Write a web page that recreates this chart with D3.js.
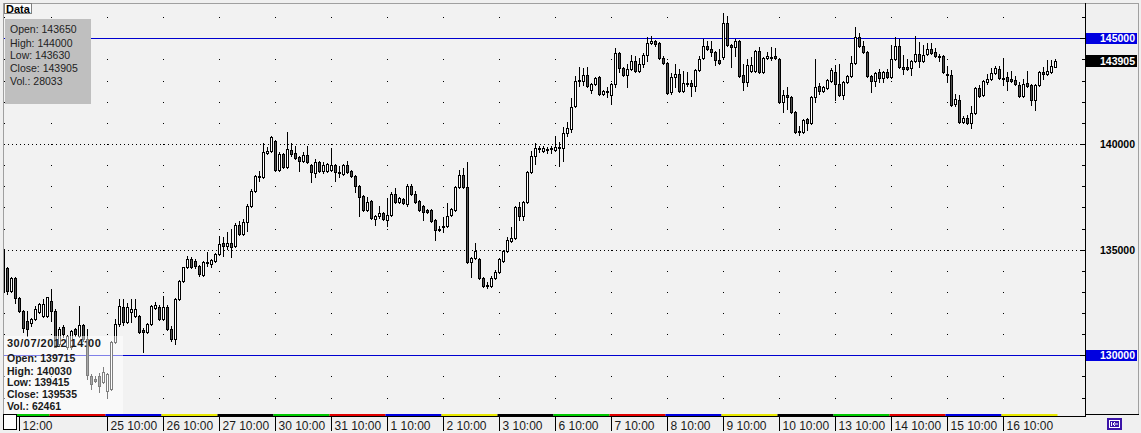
<!DOCTYPE html>
<html><head><meta charset="utf-8">
<script src="https://cdn.jsdelivr.net/npm/d3@7"></script>
<style>html,body{margin:0;padding:0;background:#f0f0f0;}svg{display:block;}</style>
</head><body>
<script>
// ---- data (30-min? hourly bars, index 0 = partially visible first bar) ----
const open = [135020,
134120,133030,133650,132700,132090,131610,131520,131710,132040,131850,
131850,132560,132090,130530,131330,130380,130380,131235,130900,131420,
130760,129010,128870,129010,128730,128300,128400,130620,131470,132280,
131570,132040,131850,131850,131190,131090,131470,132230,132280,131710,
132280,131240,130760,132650,133500,134170,134550,134450,134210,133790,
134400,134310,134450,134780,135300,135160,135300,135160,136150,135730,
136300,137050,137760,138470,138420,139560,139650,140130,138760,139510,
138900,139715,139560,139370,139180,139470,138990,138610,139130,138710,
138710,138760,138990,138660,138570,138990,138710,138470,138000,137530,
136860,137290,136440,136580,136720,136390,136630,137620,137240,137380,
137150,138000,137620,137290,137050,136860,136860,136390,135960,136110,
136110,136630,136860,137950,138520,137950,134400,134590,134550,133650,
133320,133270,133650,133930,134450,134920,135400,135540,137000,136580,
137240,138660,139420,139800,139650,139750,139770,139700,139840,139800,
140510,140700,141780,142970,142970,143250,142540,142820,143150,142350,
142440,142300,142820,144290,143580,143250,143530,143910,143440,143770,
144200,144760,144860,144760,144050,143820,142450,143150,143300,142490,
142870,142870,142730,143490,144050,144620,144480,144340,143960,144100,
145710,144670,144570,144860,143250,142920,143440,143440,144380,143390,
144050,144100,144150,144000,141970,142300,142210,141500,140600,140550,
141170,140980,142210,142730,142490,142630,142970,143390,142820,142300,
142920,143200,143820,145050,144620,144340,143200,142970,143390,143110,
143390,143160,144000,144620,143630,143630,143580,143910,144240,143910,
144240,144480,144340,144150,144150,143300,143250,141880,142070,141030,
141220,140980,141450,142630,142300,142920,143060,143340,143530,143110,
143150,143060,143010,142780,142260,142870,142780,142070,142780,143390,
143300,143390,143650];
const high = [135070,
134170,133690,133700,132750,132130,132090,131760,132320,132460,132650,
132750,133130,132180,131330,131420,130950,131190,131300,132320,131470,
131240,129100,129010,129150,129440,129150,130670,131700,132650,132650,
132460,132650,132650,131900,131280,131520,132370,132510,132370,132800,
132370,131380,132700,133550,134200,134690,134640,134550,134260,134450,
134880,134550,134830,135630,135590,135820,135960,136250,136340,136440,
137150,137860,138520,138710,140030,139840,140360,140180,139600,139560,
140550,140030,139890,139420,139600,139890,139040,139280,139180,139130,
139090,139800,139040,138950,139040,139180,138760,138520,138050,137580,
137480,137340,136630,137050,136770,137430,137720,137900,137480,137430,
138090,138090,137760,137340,137100,136910,136910,136440,136110,136530,
137190,136950,138000,138760,138850,139130,134640,135300,134600,133700,
133460,133740,134030,134590,134970,135610,136060,137050,137240,137290,
138710,139650,140030,139890,139890,139840,139890,140360,140080,140790,
141030,142160,143200,143630,143580,143630,142870,143150,143200,142540,
142680,142870,144520,144340,143630,143770,144200,144150,144050,144290,
145050,145090,144900,144810,144150,143860,143340,143770,143530,143440,
143390,143010,143530,144150,144950,144860,144860,144380,144480,146180,
146040,144720,144950,144910,143770,144000,144100,144430,144570,144100,
144340,144570,144530,144050,142540,142680,142260,141550,140840,141170,
141220,142260,144000,142870,142730,143060,143580,143720,143770,142970,
143250,144150,145520,145230,144860,144380,143250,143390,143530,143440,
143530,144670,145050,144950,144200,144000,143960,145090,144810,144670,
144760,144760,144530,144240,144200,143680,143490,142350,142300,141310,
141360,141780,142680,142780,143010,143300,143580,143680,143680,144050,
143390,143440,143200,142920,143060,143440,142820,142820,143440,143630,
143960,143960,144000];
const low = [132890,
132890,132985,132465,132040,131090,130900,131400,131660,131990,131800,
131800,131610,130380,130430,130850,130290,130300,130900,130850,130700,
128870,128400,128730,128250,128680,128020,128350,130570,131400,131450,
131520,131570,131800,131040,130150,131040,131420,132180,131660,131660,
131190,130670,130530,132600,133450,134120,134120,134120,133740,133740,
134210,134170,134400,134730,134690,135020,134640,135110,135680,135680,
135870,137000,137710,138240,138380,139510,139600,138710,138710,138850,
138850,139415,139280,138710,139130,139080,138190,138420,138660,138610,
138660,138710,138240,138420,138520,138610,138420,137720,136580,136820,
136820,136440,136150,136490,136390,136110,136580,137190,137190,137150,
137050,137570,137190,136820,136390,136720,136300,135440,135870,135820,
136060,136580,136820,137900,137900,134360,133690,134540,133600,133220,
133170,133220,133600,133880,134400,134880,135350,135490,136390,136390,
137190,138610,139040,139610,139610,139560,139560,139650,138940,139180,
140360,140550,141740,142730,142780,142680,142400,142780,142300,142300,
142210,141880,142680,143390,143200,142680,143480,143390,143390,143630,
143910,144710,144620,144000,143770,142350,142350,142680,142450,142450,
142730,142260,142490,143440,144000,144430,144150,143720,143770,144050,
144620,143630,144150,143150,142540,142730,143390,143390,143340,143340,
144000,143960,144000,141920,141500,141640,141450,140510,140410,140510,
140650,140930,141970,142350,142450,142590,142920,142070,142260,142110,
142870,143150,143770,144570,144290,143150,142440,142730,142920,142920,
143110,143110,143960,143580,143300,143480,143250,143860,143630,143860,
144200,144240,144100,143910,143340,142920,141780,141780,140980,140980,
140930,140740,141400,142210,142260,142820,143010,143300,143060,142780,
142540,142920,142780,142210,142210,142680,141830,141590,142730,143060,
143250,143340,143630];
const close = [133030,
133030,133650,132700,132090,131280,131240,131710,132180,132420,132420,
132750,132090,130380,131240,130990,130900,131140,130999,131420,130760,
129060,128630,128780,128540,129200,129100,130620,131470,132320,131570,
132280,132180,132180,131090,131090,131470,132320,132370,131710,132280,
131240,130760,132650,133500,134170,134550,134170,134210,133840,134400,
134360,134500,134780,135260,135160,135300,135110,136150,135730,136300,
137050,137760,138470,138420,139610,139650,140310,138760,139510,138900,
139750,139535,139320,139180,139470,139130,138660,139130,138710,138990,
139040,138990,138660,138680,138990,138660,138470,138000,137480,136860,
137240,136490,136580,136720,136440,136630,137620,137240,137430,137190,
138000,137620,137240,136860,136770,136770,136340,135920,135940,136100,
136580,136910,137950,138520,137950,134400,134590,134920,133650,133270,
133300,133650,133930,134550,134920,135450,135540,137000,136580,137240,
138660,139420,139800,139820,139800,139770,139800,139840,139800,140510,
140740,141740,142970,143010,143250,142730,142820,143110,142350,142490,
142490,142820,144290,143580,143250,143530,143910,143440,143770,144200,
144760,144860,144710,144050,143820,142400,143150,143300,142490,142870,
142820,142730,143490,144000,144620,144480,144340,143960,143820,145710,
144670,144570,144860,143200,142920,143720,143720,144380,143390,144050,
144150,144120,144050,141970,142300,142210,141500,140550,140620,141120,
140980,142210,142680,142490,142680,143010,143490,142820,142300,142920,
143200,143820,145050,144620,144340,143200,142970,143340,143110,143390,
143160,144000,144620,143630,143530,143530,143910,144240,143910,144200,
144480,144290,144150,144130,143390,143250,141830,142110,141030,141220,
140980,141450,142630,142260,142970,143060,143340,143580,143110,143130,
142970,142970,142820,142260,142820,142730,142070,142780,143390,143300,
143440,143680,143905];

// day labels and first-bar index of each day
const dayNames  = ["23","24","25","26","27","30","31","1","2","3","6","7","8","9","10","13","14","15","16"];
const dayStart  = [-2,12,26,40,54,68,82,96,110,124,138,152,166,180,194,208,222,236,250];
const dayColors = ["#00c800","#e00000","#0000e0","#e8e800","#000000","#00c800","#e00000","#0000e0","#e8e800","#000000",
                   "#00c800","#e00000","#0000e0","#e8e800","#000000","#00c800","#e00000","#0000e0","#e8e800"];
const tickIdx    = [4,26,40,54,68,82,96,110,124,138,152,166,180,194,208,222,236,250];
const tickLabels = ["12:00","25 10:00","26 10:00","27 10:00","30 10:00","31 10:00","1 10:00","2 10:00","3 10:00",
                    "6 10:00","7 10:00","8 10:00","9 10:00","10 10:00","13 10:00","14 10:00","15 10:00","16 10:00"];
const yLabels    = [140000,135000];
const hLines     = [145000,130000];
const lastPrice  = 143905;
const infoTop    = ["Open: 143650","High: 144000","Low: 143630","Close: 143905","Vol.: 28033"];
const infoBottom = ["Open: 139715","High: 140030","Low: 139415","Close: 139535","Vol.: 62461"];
const infoDate   = "30/07/2012 14:00";

const W = 1141, H = 433;
const PL = 4, PT = 4, PR = 1085, PB = 414;
const N = open.length;

const x = d3.scaleLinear().domain([0, N-1]).range([3.5, 3.5 + 4*(N-1)]);
const y = d3.scaleLinear().domain([130000, 145000]).range([355.3, 38.3]);
const sy = v => Math.round(y(v)) + 0.5;

const svg = d3.select("body").append("svg").attr("width", W).attr("height", H);
svg.append("rect").attr("width", W).attr("height", H).attr("fill", "#f0f0f0");
svg.append("rect").attr("x", PL).attr("y", PT).attr("width", PR-PL).attr("height", PB-PT).attr("fill", "#f2f2f2");

svg.append("clipPath").attr("id","plotclip").append("rect")
  .attr("x", PL).attr("y", PT).attr("width", PR-PL).attr("height", PB-PT);
const plot = svg.append("g").attr("clip-path","url(#plotclip)");

// grid levels every 1000
const levels = d3.range(128000, 146001, 1000);
const cols = dayStart.filter(d => d >= 0).map(d => Math.round(x(d) - 0.5));
const g = plot.append("g");
cols.concat([4]).forEach(cx => {
  levels.forEach(v => {
    g.append("rect").attr("x", cx).attr("y", Math.round(y(v))).attr("width",1).attr("height",1).attr("fill","#000");
  });
});
yLabels.forEach(v => {
  g.append("line").attr("x1", PL).attr("x2", PR).attr("y1", sy(v)).attr("y2", sy(v))
    .attr("stroke","#000").attr("stroke-dasharray","1,3");
});
hLines.forEach(v => {
  g.append("line").attr("x1", PL).attr("x2", PR).attr("y1", sy(v)).attr("y2", sy(v))
    .attr("stroke","#0000d0").attr("stroke-width",1);
});

// candles
const cg = plot.append("g");
for (let i = 0; i < N; i++) {
  const cx = Math.round(x(i) - 0.5) + 0.5;
  const yh = Math.round(y(high[i])), yl = Math.round(y(low[i]));
  cg.append("line").attr("x1", cx).attr("x2", cx).attr("y1", yh).attr("y2", yl + 1)
    .attr("stroke", "#000").attr("stroke-width", 1);
  const yo = Math.round(y(open[i])), yc = Math.round(y(close[i]));
  const top = Math.min(yo, yc), bot = Math.max(yo, yc);
  const bull = close[i] >= open[i];
  cg.append("rect").attr("x", cx - 1).attr("y", top + 0.5).attr("width", 2).attr("height", Math.max(bot - top, 1))
    .attr("fill", bull ? "#ffffff" : "#505050").attr("stroke", "#000").attr("stroke-width", 1);
}

// translucent overlay behind bottom-left info
svg.append("rect").attr("x", PL).attr("y", 336).attr("width", 119).attr("height", PB-336)
  .attr("fill", "#ffffff").attr("opacity", 0.5);

const boldFont = "'Liberation Sans', Arial, sans-serif";
const tb = svg.append("g").attr("font-family", boldFont).attr("font-weight","bold").attr("font-size","10.5px").attr("fill","#1a1a1a");
tb.append("text").attr("x", 7).attr("y", 346.5).attr("font-size","11px").attr("letter-spacing","0.5px").text(infoDate);
const bl = [362, 374.5, 386, 398, 410];
infoBottom.forEach((t, i) => tb.append("text").attr("x", 7).attr("y", bl[i]).text(t));

// top-left info box
svg.append("rect").attr("x", 5).attr("y", 19).attr("width", 86).attr("height", 85).attr("fill", "#bfbfbf");
const tt = svg.append("g").attr("font-family", boldFont).attr("font-size","10.5px").attr("fill","#222");
const tl = [33, 46.5, 59, 72, 85];
infoTop.forEach((t, i) => tt.append("text").attr("x", 10).attr("y", tl[i]).text(t));

// plot frame
svg.append("line").attr("x1", 3.5).attr("x2", 3.5).attr("y1", 3).attr("y2", 417).attr("stroke","#a0a0a0");
svg.append("line").attr("x1", 3).attr("x2", 1139).attr("y1", 3.5).attr("y2", 3.5).attr("stroke","#a0a0a0");

// Data tab
svg.append("rect").attr("x", 4.5).attr("y", 3.5).attr("width", 27).attr("height", 10).attr("fill","#fff").attr("stroke","#808080");
svg.append("text").attr("x", 6).attr("y", 12.5).attr("font-family", boldFont).attr("font-weight","bold").attr("font-size","11px").attr("fill","#000").text("Data");

// right axis
svg.append("line").attr("x1", PR + 0.5).attr("x2", PR + 0.5).attr("y1", 3).attr("y2", 417).attr("stroke","#000");
svg.append("line").attr("x1", 1138.5).attr("x2", 1138.5).attr("y1", 3).attr("y2", 415).attr("stroke","#a0a0a0");
svg.append("line").attr("x1", PR).attr("x2", 1139).attr("y1", 414.5).attr("y2", 414.5).attr("stroke","#000");
const ra = svg.append("g");
levels.forEach(v => {
  const len = (v % 5000 === 0) ? 5 : 3;
  ra.append("line").attr("x1", PR - len).attr("x2", PR).attr("y1", sy(v)).attr("y2", sy(v)).attr("stroke","#000");
});
const rl = svg.append("g").attr("font-family", boldFont).attr("font-weight","bold").attr("font-size","10.5px").attr("text-anchor","end");
yLabels.forEach(v => rl.append("text").attr("x", 1135).attr("y", y(v) + 4).attr("fill","#000").text(v));
hLines.forEach(v => {
  rl.append("rect").attr("x", 1086).attr("y", Math.round(y(v)) - 5).attr("width", 51).attr("height", 11).attr("fill","#0000e0");
  rl.append("text").attr("x", 1135).attr("y", y(v) + 4).attr("fill","#fff").text(v);
});
rl.append("rect").attr("x", 1086).attr("y", Math.round(y(lastPrice)) - 6).attr("width", 51).attr("height", 12).attr("fill","#000");
rl.append("text").attr("x", 1135).attr("y", y(lastPrice) + 4).attr("fill","#fff").text(lastPrice);

// bottom axis: weekday colour strip + baseline
const ba = svg.append("g");
dayStart.forEach((s, i) => {
  const x0 = Math.max(17, x(s) - 2), x1 = Math.min(PR, x(s + 14) - 2);
  if (x1 > x0) ba.append("rect").attr("x", x0).attr("y", 414).attr("width", x1 - x0).attr("height", 2.5).attr("fill", dayColors[i]);
});
ba.append("line").attr("x1", 3).attr("x2", PR + 1).attr("y1", 416.5).attr("y2", 416.5).attr("stroke","#000");
const bx = svg.append("g").attr("font-family", boldFont).attr("font-size","12px").attr("fill","#1a1a1a");
tickIdx.forEach((t, i) => {
  const tx = Math.round(x(t) - 0.5) + 0.5;
  bx.append("line").attr("x1", tx).attr("x2", tx).attr("y1", 417).attr("y2", 431).attr("stroke","#000");
  bx.append("text").attr("x", tx + 3).attr("y", 430).text(tickLabels[i]);
});
// corner box
svg.append("rect").attr("x", 3.5).attr("y", 414.5).attr("width", 13).attr("height", 15).attr("fill","#fff").attr("stroke","#000");

// scroll icon
const ic = svg.append("g");
ic.append("rect").attr("x", 1107).attr("y", 418).attr("width", 15).attr("height", 12).attr("fill","#3b14a8");
ic.append("rect").attr("x", 1109.5).attr("y", 420.5).attr("width", 10).attr("height", 7).attr("fill","none").attr("stroke","#fff");
ic.append("path").attr("d","M1111.5,422 V426 M1113,424 H1118 M1113,424 L1115,422 M1113,424 L1115,426").attr("stroke","#fff").attr("fill","none");
</script>
</body></html>
